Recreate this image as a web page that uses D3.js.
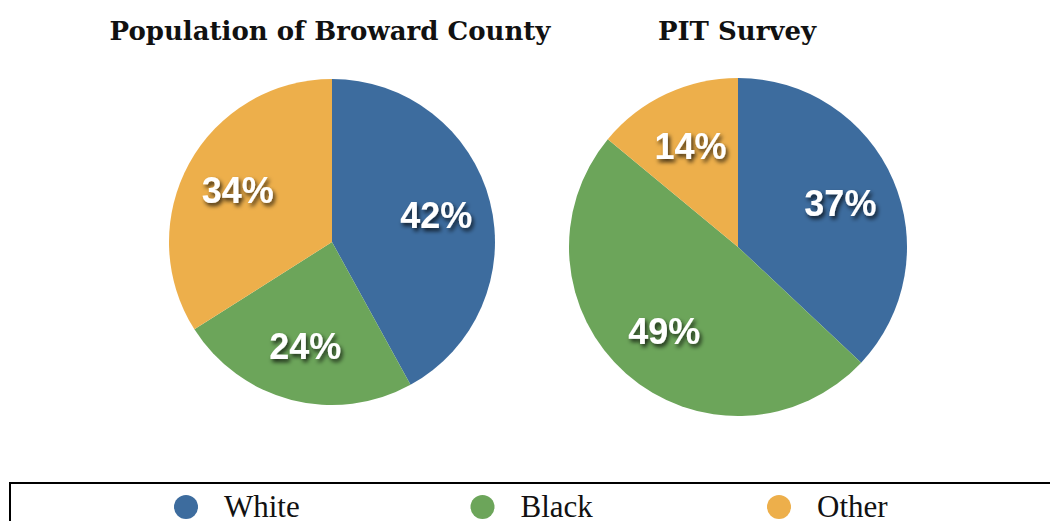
<!DOCTYPE html>
<html><head><meta charset="utf-8">
<script src="https://cdn.jsdelivr.net/npm/d3@7"></script>
<style>body{margin:0;background:#fff}</style>
</head><body>
<svg id="chart" width="1050" height="521"></svg>
<script>
const categories = ["White", "Black", "Other"];
const colors = ["#3d6c9e", "#6ca55a", "#edaf4b"];
const titles = ["Population of Broward County", "PIT Survey"];
const broward = [42, 24, 34];
const pit = [37, 49, 14];

const svg = d3.select("#chart");
const defs = svg.append("defs");
const f = defs.append("filter").attr("id", "shadow").attr("x", "-20%").attr("y", "-20%").attr("width", "150%").attr("height", "150%");
f.append("feDropShadow").attr("dx", 2).attr("dy", 3).attr("stdDeviation", 2).attr("flood-color", "#000").attr("flood-opacity", 0.75);

const pies = [
  { values: broward, cx: 332, cy: 242, r: 163, tx: 330 },
  { values: pit, cx: 738, cy: 247, r: 169, tx: 737 }
];

const pie = d3.pie().sort(null).value(d => d);

pies.forEach((p, i) => {
  const g = svg.append("g").attr("transform", `translate(${p.cx},${p.cy})`);
  const arc = d3.arc().innerRadius(0).outerRadius(p.r);
  const labelArc = d3.arc().innerRadius(p.r * 0.66).outerRadius(p.r * 0.66);
  const arcs = pie(p.values);
  g.selectAll("path").data(arcs).join("path")
    .attr("d", arc).attr("fill", (d, j) => colors[j]);
  g.selectAll("text").data(arcs).join("text")
    .attr("transform", d => `translate(${labelArc.centroid(d)})`)
    .attr("text-anchor", "middle").attr("dy", "0.36em")
    .attr("font-family", "Liberation Sans, Arial, sans-serif")
    .attr("font-weight", "bold").attr("font-size", 36)
    .attr("fill", "#fff").attr("filter", "url(#shadow)")
    .text(d => d.data + "%");
  svg.append("text").attr("x", p.tx).attr("y", 40).attr("text-anchor", "middle")
    .attr("font-family", "DejaVu Serif, serif").attr("font-weight", "bold").attr("font-size", 26)
    .attr("fill", "#111").text(titles[i]);
});

// legend
svg.append("rect").attr("x", 10).attr("y", 483).attr("width", 1060).attr("height", 60)
  .attr("fill", "none").attr("stroke", "#000").attr("stroke-width", 2);
const lx = d3.scalePoint().domain(categories).range([186, 779]);
const lg = svg.selectAll(".leg").data(categories).join("g")
  .attr("transform", d => `translate(${lx(d)},507)`);
lg.append("circle").attr("r", 12).attr("fill", (d, j) => colors[j]);
lg.append("text").attr("x", 38).attr("dy", "0.33em")
  .attr("font-family", "Liberation Serif, serif").attr("font-size", 31).attr("fill", "#111")
  .text(d => d);
</script>
</body></html>
